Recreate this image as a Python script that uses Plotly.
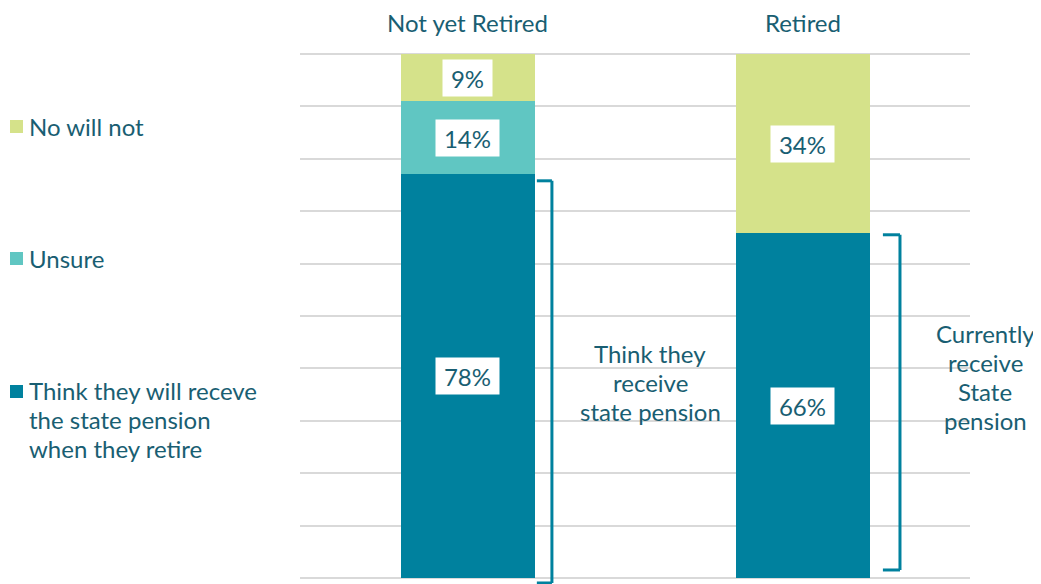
import plotly.graph_objects as go

# ---- data ----
categories = ["Not yet Retired", "Retired"]
think_receive = [77.1, 65.8]
unsure = [13.9, 0.0]
no_will_not = [9.0, 34.2]
think_labels = ["78%", "66%"]
unsure_labels = ["14%", ""]
no_labels = ["9%", "34%"]
series_names = ["Think they will receve the state pension when they retire", "Unsure", "No will not"]
legend_lines = [
    ["No will not"],
    ["Unsure"],
    ["Think they will receve", "the state pension", "when they retire"],
]
bracket_lines = [
    ["Think they", "receive", "state pension"],
    ["Currently", "receive", "State", "pension"],
]

# ---- style ----
OFF = 8  # default body margin of the page
W, H = 1041 - OFF, 584 - OFF
ML, MR, MT, MB = 300 - OFF, 71, 54 - OFF, 6
PW, PH = W - ML - MR, H - MT - MB
C_DARK = "#00819E"
C_TEAL = "#60C6C2"
C_GREEN = "#D5E28A"
C_GRID = "#D9D9D9"
TXT = "#195E72"
FONT = "Lato"
FS = 24
LINE_H = 29

def pxx(px):  # page x pixel -> paper
    return (px - OFF - ML) / PW

def pxy(py):  # page y pixel -> paper
    return (OFF + MT + PH - py) / PH

fig = go.Figure()
series = [
    (series_names[0], think_receive, C_DARK),
    (series_names[1], unsure, C_TEAL),
    (series_names[2], no_will_not, C_GREEN),
]
for name, vals, col in series:
    fig.add_trace(go.Bar(
        x=categories, y=vals, name=name, marker=dict(color=col, line=dict(width=0)),
        showlegend=False, hoverinfo="skip",
    ))

annotations = []
shapes = []

# category labels (top)
for ci, cat in enumerate(categories):
    annotations.append(dict(
        x=ci, y=pxy(22.5), xref="x", yref="paper", text=cat, showarrow=False,
        xanchor="center", yanchor="middle", font=dict(family=FONT, size=FS, color=TXT),
    ))

# data labels in white boxes
label_sets = [think_labels, unsure_labels, no_labels]
val_sets = [think_receive, unsure, no_will_not]
for ci, cat in enumerate(categories):
    base = 0.0
    for vals, labs in zip(val_sets, label_sets):
        v = vals[ci]
        if v > 0 and labs[ci]:
            annotations.append(dict(
                x=ci, y=base + v / 2, xref="x", yref="y", text=labs[ci], showarrow=False,
                xanchor="center", yanchor="middle",
                font=dict(family=FONT, size=FS, color=TXT), bgcolor="white", borderpad=0,
                width=14 * len(labs[ci]) + 21, height=36,
            ))
        base += v

# bracket texts (line by line)
bracket_text_pos = [(650, 382.5), (985, 376.5)]
for (cx, cy), lines in zip(bracket_text_pos, bracket_lines):
    n = len(lines)
    for li, t in enumerate(lines):
        y = cy + (li - (n - 1) / 2) * LINE_H
        annotations.append(dict(
            x=pxx(cx), y=pxy(y), xref="paper", yref="paper", text=t, showarrow=False,
            xanchor="center", yanchor="middle", font=dict(family=FONT, size=FS, color=TXT),
        ))

# legend (manual)
legend_specs = [
    (C_GREEN, 126, 126.5),
    (C_TEAL, 259, 258.5),
    (C_DARK, 390, 391.5),
]
for (col, ty, sy), lines in zip(legend_specs, legend_lines):
    for li, t in enumerate(lines):
        annotations.append(dict(
            x=pxx(27), y=pxy(ty + li * LINE_H), xref="paper", yref="paper", text=t,
            showarrow=False, xanchor="left", yanchor="middle", align="left",
            font=dict(family=FONT, size=FS, color=TXT),
        ))
    shapes.append(dict(
        type="rect", xref="paper", yref="paper",
        x0=pxx(10), x1=pxx(23), y0=pxy(sy + 6.5), y1=pxy(sy - 6.5),
        fillcolor=col, line=dict(width=0),
    ))

# top and bottom grid lines (edge of value range)
for yy in (0, 1):
    shapes.append(dict(type="line", xref="paper", yref="paper", x0=0, x1=1, y0=yy, y1=yy,
                       line=dict(color=C_GRID, width=2), layer="below"))

# brackets
bracket_specs = [
    (0.207, 0.252, (think_receive[0] - 1.3) / 100, -0.0095),
    (1.24, 1.291, (think_receive[1] - 0.3) / 100, 0.0153),
]
for xl, xr, yt, yb in bracket_specs:
    line = dict(color=C_DARK, width=3)
    shapes.append(dict(type="line", xref="x", yref="paper", x0=xl, x1=xr, y0=yt, y1=yt, line=line))
    shapes.append(dict(type="line", xref="x", yref="paper", x0=xr, x1=xr, y0=yt, y1=yb, line=line))
    shapes.append(dict(type="line", xref="x", yref="paper", x0=xl, x1=xr, y0=yb, y1=yb, line=line))

fig.update_layout(
    barmode="stack",
    bargap=0.6,
    width=W, height=H,
    margin=dict(l=ML, r=MR, t=MT, b=MB),
    paper_bgcolor="white", plot_bgcolor="white",
    font=dict(family=FONT, color=TXT),
    xaxis=dict(side="top", showticklabels=False, ticks="",
               range=[-0.5, 1.5], autorange=False,
               showgrid=False, showline=False),
    yaxis=dict(range=[0, 100], dtick=10, showgrid=True, gridcolor=C_GRID, gridwidth=2,
               showticklabels=False, zeroline=False, ticks=""),
    annotations=annotations,
    shapes=shapes,
)

fig.write_html("out.html")
